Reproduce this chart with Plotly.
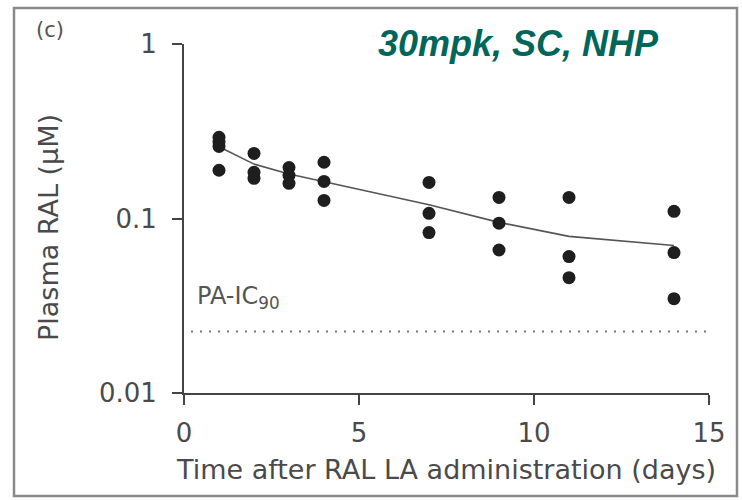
import plotly.graph_objects as go

# Individual observations (days, plasma RAL in µM)
obs_days = [1, 1, 1, 1, 2, 2, 2, 3, 3, 3, 4, 4, 4,
            7, 7, 7, 9, 9, 9, 11, 11, 11, 14, 14, 14]
obs_vals = [0.292, 0.274, 0.259, 0.189,
            0.236, 0.184, 0.170,
            0.196, 0.177, 0.159,
            0.210, 0.163, 0.127,
            0.161, 0.107, 0.083,
            0.132, 0.094, 0.066,
            0.132, 0.0605, 0.0458,
            0.110, 0.0638, 0.0347]

# Mean profile line
mean_days = [1, 2, 3, 4, 7, 9, 11, 14]
mean_vals = [0.258, 0.205, 0.180, 0.163, 0.120, 0.095, 0.079, 0.070]

# PA-IC90 threshold
ic90_x = [0.2, 15]
ic90_val = 0.0225

x_ticks = [0, 5, 10, 15]
y_ticks = [0.01, 0.1, 1]
y_ticklabels = ["0.01", "0.1", "1"]

W, H = 742, 500
L, R, T, B = 184, 33, 44, 107
pw, ph = W - L - R, H - T - B

def px(xp):
    return (xp - L) / pw

def py(yp):
    return (H - B - yp) / ph

FONT = "DejaVu Sans"
GREY = "#4a4a4a"

fig = go.Figure()
fig.add_trace(go.Scatter(x=ic90_x, y=[ic90_val, ic90_val], mode="lines",
                         line=dict(color="#777777", width=2, dash="2px,7px"),
                         hoverinfo="skip", showlegend=False))
fig.add_trace(go.Scatter(x=mean_days, y=mean_vals, mode="lines",
                         line=dict(color="#555555", width=1.6),
                         showlegend=False))
fig.add_trace(go.Scatter(x=obs_days, y=obs_vals, mode="markers",
                         marker=dict(color="#1e1e1e", size=13),
                         showlegend=False))

fig.update_layout(
    width=W, height=H,
    margin=dict(l=L, r=R, t=T, b=B),
    paper_bgcolor="white", plot_bgcolor="white",
    font=dict(family=FONT, color=GREY, size=22),
    xaxis=dict(range=[0, 15], tickvals=x_ticks, showgrid=False, zeroline=False,
               showline=True, linecolor="#444444", linewidth=2,
               ticks="outside", ticklen=10, tickwidth=2, tickcolor="#444444",
               ticklabelstandoff=6,
               tickfont=dict(size=26, color=GREY)),
    yaxis=dict(type="log", range=[-2, 0], tickvals=y_ticks, ticktext=y_ticklabels,
               showgrid=False, zeroline=False,
               showline=True, linecolor="#444444", linewidth=2,
               ticks="outside", ticklen=10, tickwidth=2, tickcolor="#444444",
               ticklabelstandoff=10,
               tickfont=dict(size=26, color=GREY)),
    shapes=[dict(type="rect", xref="paper", yref="paper",
                 x0=px(14), x1=px(737), y0=py(496), y1=py(8),
                 line=dict(color="#8a8a8a", width=2.5), layer="below")],
    annotations=[
        dict(xref="paper", yref="paper", x=px(446), y=py(469), xanchor="center", yanchor="middle",
             text="Time after RAL LA administration (days)", showarrow=False,
             font=dict(size=27, color=GREY, family=FONT)),
        dict(xref="paper", yref="paper", x=px(48), y=py(228), xanchor="center", yanchor="middle",
             text="Plasma RAL (μM)", textangle=-90, showarrow=False,
             font=dict(size=27, color=GREY, family=FONT)),
        dict(xref="paper", yref="paper", x=px(34), y=py(30), xanchor="left", yanchor="middle",
             text="(c)", showarrow=False, font=dict(size=21, color="#555555", family=FONT)),
        dict(xref="paper", yref="paper", x=px(518), y=py(43), xanchor="center", yanchor="middle",
             text="<b><i>30mpk, SC, NHP</i></b>", showarrow=False,
             font=dict(size=36, color="#00665A", family="Liberation Sans")),
        dict(xref="paper", yref="paper", x=px(195), y=py(297), xanchor="left", yanchor="middle",
             text="PA-IC<sub>90</sub>", showarrow=False,
             font=dict(size=24, color="#555555", family=FONT)),
    ],
)

fig.write_html("out.html")
